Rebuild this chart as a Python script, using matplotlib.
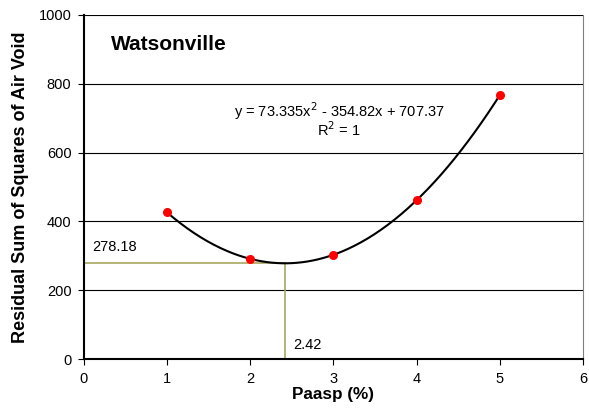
import numpy as np
import matplotlib.pyplot as plt

plt.rcParams['font.family'] = ['Liberation Sans', 'DejaVu Sans']

# data
paasp = [1, 2, 3, 4, 5]
rss = [425.9, 291.1, 302.9, 461.5, 766.6]
opt_x = 2.42
opt_y = 278.18

# quadratic trendline
coef = np.polyfit(paasp, rss, 2)
xs = np.linspace(1, 5, 200)
ys = np.polyval(coef, xs)

fig = plt.figure(figsize=(5.89, 4.16), dpi=100)
ax = fig.add_axes([0.1426, 0.137, 0.847, 0.827])

for gy in [200, 400, 600, 800, 1000]:
    ax.axhline(gy, color='black', lw=0.8, zorder=1)

ax.plot([0, opt_x], [opt_y, opt_y], color='#a8a860', lw=1.2, zorder=2)
ax.plot([opt_x, opt_x], [0, opt_y], color='#a8a860', lw=1.2, zorder=2)

ax.plot(xs, ys, color='black', lw=1.5, zorder=3)
ax.plot(paasp, rss, 'o', color='red', markersize=5.5, zorder=4)

ax.set_xlim(0, 6)
ax.set_ylim(0, 1000)
ax.set_xticks(range(0, 7))
ax.set_yticks(range(0, 1001, 200))
ax.tick_params(direction='out', length=4, labelsize=10.5, pad=5)

ax.spines['top'].set_visible(False)
ax.spines['right'].set_color('#808080')
ax.spines['left'].set_linewidth(1.5)
ax.spines['bottom'].set_linewidth(1.5)

ax.set_xlabel('Paasp (%)', fontsize=12.3, fontweight='bold', labelpad=1)
ax.set_ylabel('Residual Sum of Squares of Air Void', fontsize=13, fontweight='bold', labelpad=7)

ax.text(0.33, 913, 'Watsonville', fontsize=15, fontweight='bold', va='center', ha='left')
ax.text(3.07, 720, 'y = 73.335x$^2$ - 354.82x + 707.37', fontsize=10.5, ha='center', va='center')
ax.text(3.07, 666, 'R$^2$ = 1', fontsize=10.5, ha='center', va='center')
ax.text(0.1, 326, '278.18', fontsize=10.5, ha='left', va='center')
ax.text(2.52, 41, '2.42', fontsize=10.5, ha='left', va='center')

fig.savefig('out.png', dpi=100)
